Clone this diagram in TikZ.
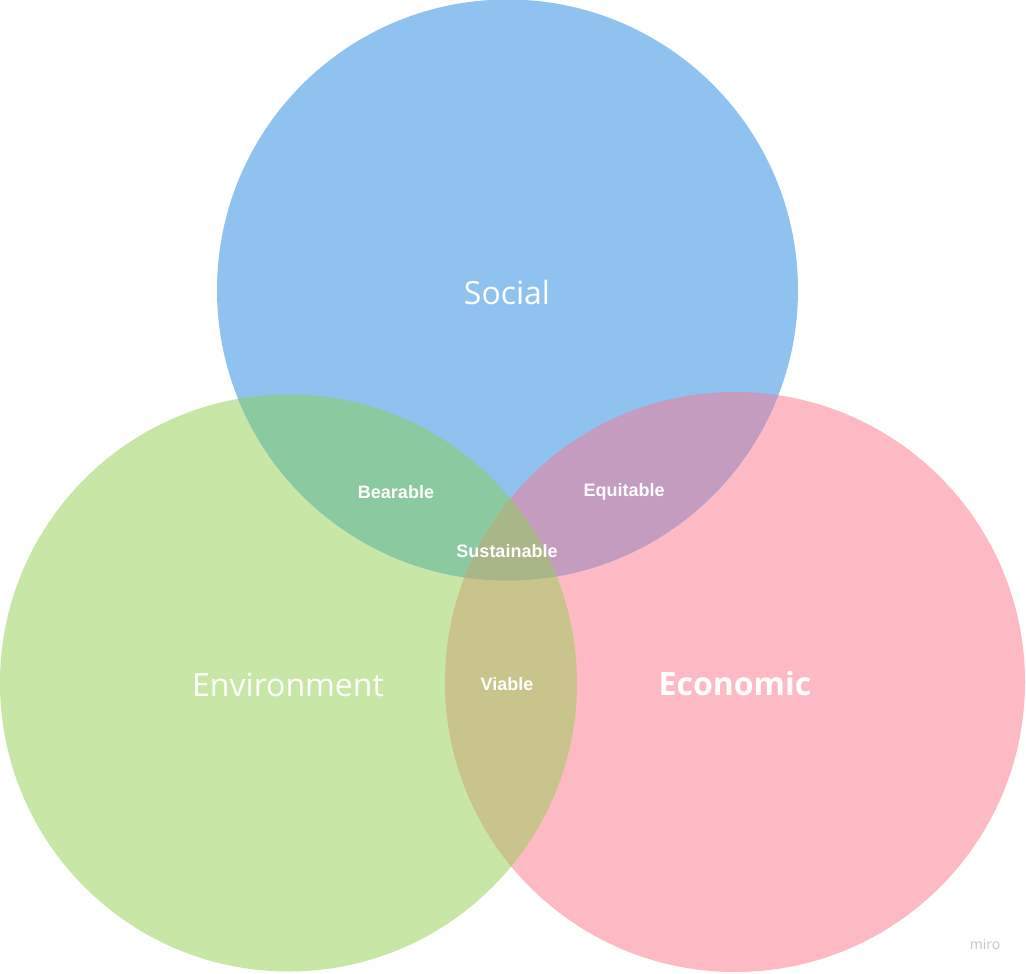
\documentclass[tikz,border=0pt]{standalone}
\usepackage{fontspec}
\setmainfont{Open Sans}
\newfontfamily\smallfont{Liberation Sans}
\usetikzlibrary{positioning}

\definecolor{socblue}{HTML}{90C2F0}
\definecolor{envgreen}{HTML}{C8E6A5}
\definecolor{ecopink}{HTML}{FDBAC4}
\definecolor{socenv}{HTML}{8BC9A0}
\definecolor{soceco}{HTML}{C49CC0}
\definecolor{enveco}{HTML}{C8C48C}
\definecolor{allthree}{HTML}{A8B688}
\definecolor{mirogrey}{HTML}{C4C4D4}

\tikzset{
  bigtext/.style={text=white, font=\fontsize{32}{36}\selectfont},
  smalltext/.style={text=white, font=\smallfont\bfseries\fontsize{18}{21}\selectfont}
}

\begin{document}
\begin{tikzpicture}[x=1pt, y=-1pt]
  \useasboundingbox (0,0) rectangle (1026,974);
  % Circle centres
  \coordinate (soc) at (507.5,290);
  \coordinate (env) at (288.5,683);
  \coordinate (eco) at (735,682);
  % Single circles
  \fill[envgreen] (env) circle (288.5pt);
  \fill[ecopink] (eco) circle (290pt);
  \fill[socblue] (soc) circle (290.5pt);
  % Social and Environment
  \begin{scope}
    \clip (soc) circle (290.5pt);
    \fill[socenv] (env) circle (288.5pt);
  \end{scope}
  % Social and Economic
  \begin{scope}
    \clip (soc) circle (290.5pt);
    \fill[soceco] (eco) circle (290pt);
  \end{scope}
  % Environment and Economic
  \begin{scope}
    \clip (env) circle (288.5pt);
    \fill[enveco] (eco) circle (290pt);
  \end{scope}
  % All three
  \begin{scope}
    \clip (env) circle (288.5pt);
    \clip (soc) circle (290.5pt);
    \fill[allthree] (eco) circle (290pt);
  \end{scope}
  % Labels
  \node[bigtext] (social) at (507,292) {Social};
  \node[bigtext] (environment) at (288,685) {Environment};
  \node[bigtext, font=\bfseries\fontsize{32}{36}\selectfont] (economic) at (735,683) {Economic};
  \node[smalltext] (bearable) at (396,492) {Bearable};
  \node[smalltext] (equitable) at (624,492) {Equitable};
  \node[smalltext] (sustainable) at (507,551) {Sustainable};
  \node[smalltext] (viable) at (507,684) {Viable};
  \node[text=mirogrey, font=\fontsize{14}{16}\selectfont] (miro) at (985,944) {miro};
\end{tikzpicture}
\end{document}
